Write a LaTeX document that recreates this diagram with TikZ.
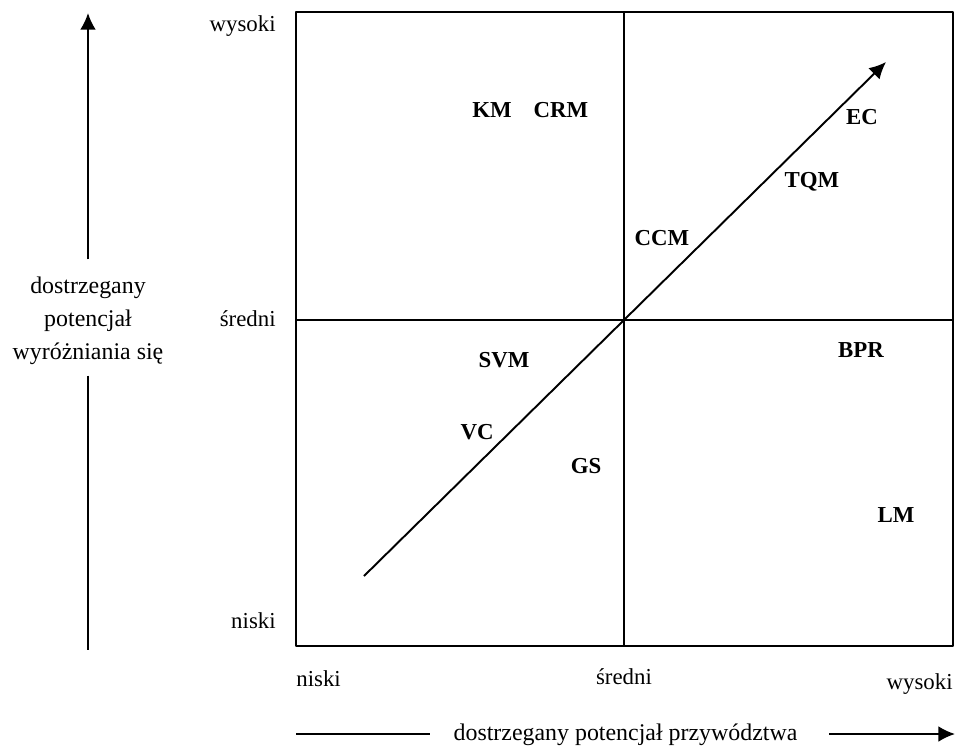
\documentclass[tikz,border=0pt]{standalone}
\usepackage{fontspec}
\setmainfont{Liberation Serif}
\usetikzlibrary{arrows.meta, positioning}
\tikzset{
  concept/.style={font=\fontsize{13}{15}\selectfont\bfseries, inner sep=1pt},
  level/.style={font=\fontsize{13}{15}\selectfont, inner sep=0pt},
  axistext/.style={font=\fontsize{13.6}{18.7}\selectfont, align=center, inner sep=0pt},
  frame/.style={line width=1.1pt},
  axisarrow/.style={line width=1.1pt, -{Latex[length=9.5pt,width=9pt]}},
}

\begin{document}
\begin{tikzpicture}[x=0.02cm,y=-0.02cm,line join=round]
	\useasboundingbox (0,0) rectangle (960,745);
	% matrix and quadrants
	\draw[frame] (296,12) rectangle (953,646);
	\draw[frame] (624,12) -- (624,646);
	\draw[frame] (296,320) -- (953,320);
	% levels on the vertical side
	\node[level, anchor=base east] (yhigh) at (276,31) {wysoki};
	\node[level, anchor=base east] (ymid)  at (276,326) {średni};
	\node[level, anchor=base east] (ylow)  at (276,628) {niski};
	% levels on the horizontal side
	\node[level, anchor=base west] (xlow)  at (296,686) {niski};
	\node[level, anchor=base]      (xmid)  at (624,684) {średni};
	\node[level, anchor=base east] (xhigh) at (953,689) {wysoki};
	% vertical axis
	\coordinate (ytop) at (88,13);
	\coordinate (ybottom) at (88,650);
	\node[axistext] (ytitle) at (88,321) {dostrzegany\\potencjał\\wyróżniania się};
	\draw[axisarrow, shorten <=10pt] (ytitle.north) -- (ytop);
	\draw[frame, shorten <=6pt] (ytitle.south) -- (ybottom);
	% horizontal axis
	\coordinate (xleft) at (296,734);
	\coordinate (xright) at (955,734);
	\node[axistext, anchor=base] (xtitle) at (625.5,740) {dostrzegany potencjał przywództwa};
	\draw[frame, shorten >=13pt] (xleft) -- (xtitle.west |- xleft);
	\draw[axisarrow, shorten <=18pt] (xtitle.east |- xright) -- (xright);
	% diagonal
	\coordinate (dstart) at (364,576);
	\coordinate (dend) at (886,62);
	\draw[axisarrow] (dstart) -- (dend);
	% concepts
	\node[concept] (km)  at (492,110) {KM};
	\node[concept] (crm) at (561,110) {CRM};
	\node[concept] (ec)  at (862,117) {EC};
	\node[concept] (tqm) at (812,182) {TQM};
	\node[concept] (ccm) at (662,238) {CCM};
	\node[concept] (bpr) at (861,350) {BPR};
	\node[concept] (svm) at (504,360) {SVM};
	\node[concept] (vc)  at (477,432) {VC};
	\node[concept] (gs)  at (586,466) {GS};
	\node[concept] (lm)  at (896,515) {LM};
\end{tikzpicture}
\end{document}
